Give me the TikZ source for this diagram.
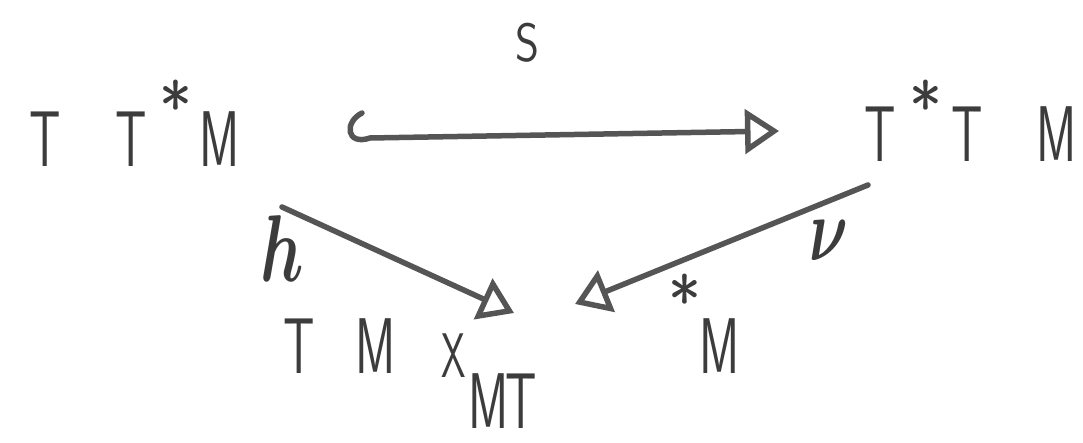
\documentclass[tikz,border=0pt]{standalone}
\usepackage{graphicx}
\usepackage{bm}
\usetikzlibrary{arrows.meta}
\definecolor{ink}{HTML}{3C3C3C}
\definecolor{arr}{HTML}{555555}
\newcommand\Ltr[1]{\scalebox{0.62}[1]{#1}}
\tikzset{
  ltr/.style={anchor=base, inner sep=0pt, text=ink, font=\sffamily\fontsize{79}{90}\selectfont},
  sml/.style={anchor=base, inner sep=0pt, text=ink, font=\sffamily\fontsize{63}{72}\selectfont},
  star/.style={anchor=north, inner sep=0pt, text=ink, font=\sffamily\fontsize{70}{80}\selectfont},
  lab/.style={inner sep=0pt, text=ink},
  conn/.style={draw=arr, line width=5.5pt, line cap=round,
    -{Triangle[open, length=34pt, width=44pt, line width=5.5pt]}},
}
\begin{document}
\begin{tikzpicture}[x=1pt, y=-1pt]
\useasboundingbox (0,0) rectangle (1083,443);
% top left: T T*M
\node[ltr] (a1) at (45,167) {\Ltr{T}};
\node[ltr] (a2) at (131,167) {\Ltr{T}};
\node[star] (a3) at (176,80) {*};
\node[ltr] (a4) at (220,167) {\Ltr{M}};
% top right: T*T M
\node[ltr] (b1) at (880,162) {\Ltr{T}};
\node[star] (b2) at (926,80) {*};
\node[ltr] (b3) at (967,162) {\Ltr{T}};
\node[ltr] (b4) at (1057,162) {\Ltr{M}};
% bottom: T M X_MT *M
\node[ltr] (c1) at (299,373) {\Ltr{T}};
\node[ltr] (c2) at (376,373) {\Ltr{M}};
\node[sml] (c3) at (454,377) {\Ltr{X}};
\node[ltr] (c4) at (489,428) {\Ltr{M}};
\node[ltr] (c5) at (521,428) {\Ltr{T}};
\node[star] (c6) at (685,274) {*};
\node[ltr] (c7) at (720,373) {\Ltr{M}};
% labels
\node[anchor=base, inner sep=0pt, text=ink, font=\sffamily\fontsize{54}{60}\selectfont] (S) at (527,62) {\scalebox{0.85}[1]{S}};
\node[lab] (h) at (282,249) {\scalebox{6.5}[9.5]{$\bm{h}$}};
\node[lab] (nu) at (829,241) {\scalebox{6}[9]{$\bm{\nu}$}};
% connector ends
\coordinate (s0) at (362,113);
\coordinate (s1) at (779,131);
\coordinate (h0) at (282,207);
\coordinate (h1) at (514,313);
\coordinate (n0) at (868,185);
\coordinate (n1) at (575,304);
% arrows
\draw[conn] (s0) .. controls (344,122) and (346,146) .. (370,138) -- (s1);
\draw[conn] (h0) -- (h1);
\draw[conn] (n0) -- (n1);
\end{tikzpicture}
\end{document}
